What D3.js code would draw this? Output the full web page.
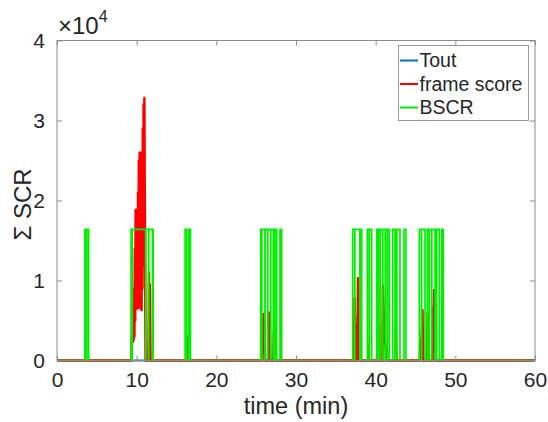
<!DOCTYPE html>
<html><head><meta charset="utf-8">
<script src="https://cdn.jsdelivr.net/npm/d3@7"></script>
<style>
body{margin:0;background:#fff}
svg{display:block}
text{font-family:"Liberation Sans",Arial,Helvetica,sans-serif;fill:#262626}
</style>
</head><body>
<svg id="c" width="548" height="422"></svg>
<script>
// ---------------- data ----------------
const xTicks = [0, 10, 20, 30, 40, 50, 60];
const yTicks = [0, 10000, 20000, 30000, 40000];
const yTickLabels = ["0", "1", "2", "3", "4"];
const seriesNames = ["Tout", "frame score", "BSCR"];
const seriesColors = ["#0072BD", "#ff0000", "#00f000"];

const toutTime = [0, 60];
const toutValue = [0, 0];

const bscrLevel = 16384;
// [on, off] times (min) of BSCR pulses
const bscrPulses = [
  [3.5, 3.72], [3.74, 3.97],
  [9.3, 9.42], [9.44, 11.13], [11.15, 11.5], [11.52, 11.98], [12.0, 12.07],
  [16.08, 16.3], [16.55, 16.75],
  [25.57, 25.7], [25.72, 26.1], [26.12, 26.44], [26.46, 26.82], [26.84, 27.15], [27.17, 27.34], [27.36, 27.58],
  [27.99, 28.2],
  [37.11, 37.37], [37.39, 38.02], [38.04, 38.25],
  [38.95, 39.18], [39.2, 39.5],
  [40.13, 40.3], [40.32, 40.54], [40.56, 40.88], [40.9, 41.2], [41.22, 41.46], [41.48, 41.71],
  [42.14, 42.43], [42.45, 42.64], [42.66, 43.05],
  [43.55, 43.8],
  [45.48, 45.75], [45.77, 46.19], [46.48, 46.71], [46.73, 47.03], [47.05, 47.45], [47.47, 47.64], [47.66, 47.99],
  [48.29, 48.49]
];

const frameTime = [
  0, 9.32, 9.37, 9.42, 9.47, 9.52, 9.57, 9.62, 9.67, 9.72, 9.77, 9.82, 9.87, 9.92, 9.97,
  10.02, 10.07, 10.12, 10.17, 10.22, 10.27, 10.32, 10.37, 10.42, 10.47, 10.52, 10.57, 10.62,
  10.67, 10.72, 10.77, 10.82, 10.87, 10.92, 10.97, 11.02, 11.07, 11.12,
  11.45, 11.50, 11.55, 11.60, 11.65, 11.70, 11.75,
  16.32, 16.36, 16.40, 16.44, 16.48,
  25.75, 25.80, 25.85, 25.90, 25.95, 26.00, 26.05, 26.08, 26.10,
  26.50, 26.55, 26.60, 26.65, 26.70, 26.75, 26.80,
  27.15, 27.20, 27.25, 27.30, 27.35, 27.40, 27.45,
  37.25, 37.30, 37.35, 37.45, 37.50,
  37.70, 37.78, 37.83, 37.88, 37.93, 37.98, 38.02,
  39.05, 39.10, 39.15,
  40.30, 40.35, 40.45, 40.52,
  40.85, 40.90, 40.97, 41.05, 41.15, 41.25, 41.30,
  42.48, 42.53, 42.58, 42.63,
  45.55, 45.60, 45.68, 45.78, 45.88, 45.92, 45.97,
  46.48, 46.53, 46.60, 46.67,
  47.15, 47.22, 47.28, 47.35, 47.45, 47.52,
  60
];
const frameValue = [
  0, 0, 2200, 3200, 4900, 2300, 5000, 2600, 9000, 3000, 14000, 5000, 18800, 7000, 18800,
  6800, 18600, 6500, 21000, 6600, 25000, 6800, 26000, 7000, 24000, 6500, 20000, 6300,
  26000, 9000, 29000, 12000, 32000, 16000, 32800, 20000, 9000, 0,
  0, 3200, 11000, 3500, 9500, 3300, 0,
  0, 1000, 3000, 900, 0,
  0, 2500, 5200, 2700, 5800, 2600, 4800, 2500, 0,
  0, 1700, 6000, 2000, 5600, 1800, 0,
  0, 2500, 4600, 2600, 4000, 2500, 0,
  0, 3000, 7800, 2500, 0,
  0, 10300, 6000, 9000, 3500, 2500, 0,
  0, 2000, 0,
  0, 4400, 3000, 0,
  0, 9400, 7000, 4500, 2500, 1700, 0,
  0, 4000, 1500, 0,
  0, 2500, 2000, 3000, 6300, 2500, 0,
  0, 5900, 2500, 0,
  0, 6700, 4400, 8800, 4400, 0,
  0
];

// ---------------- chart ----------------
const svg = d3.select("#c");
const L = 57, R = 535, T = 40.5, B = 360.5;
const x = d3.scaleLinear().domain([0, 60]).range([L, R]);
const y = d3.scaleLinear().domain([0, 40000]).range([B, T]);
const axisColor = "#8c8c8c";
const tickLen = 5;

svg.append("rect").attr("x", L).attr("y", T).attr("width", R - L).attr("height", B - T)
  .attr("fill", "#fff").attr("stroke", "none");

svg.append("clipPath").attr("id", "clip").append("rect")
  .attr("x", L).attr("y", T - 2).attr("width", R - L).attr("height", B - T + 4);

const line = d3.line().x(d => x(d[0])).y(d => y(d[1]));
const plot = svg.append("g").attr("clip-path", "url(#clip)");

// Tout
plot.append("path").datum(toutTime.map((t, i) => [t, toutValue[i]]))
  .attr("d", line).attr("fill", "none").attr("stroke", seriesColors[0]).attr("stroke-width", 2.2);
// frame score
plot.append("path").datum(frameTime.map((t, i) => [t, frameValue[i]]))
  .attr("d", line).attr("fill", "none").attr("stroke", seriesColors[1]).attr("stroke-width", 2.5)
  .attr("stroke-linejoin", "round");
// BSCR
const bscrPts = [[0, 0]];
bscrPulses.forEach(p => { bscrPts.push([p[0], bscrLevel]); bscrPts.push([p[1], 0]); });
bscrPts.push([60, 0]);
plot.append("path").datum(bscrPts)
  .attr("d", d3.line().x(d => x(d[0])).y(d => y(d[1])).curve(d3.curveStepAfter))
  .attr("fill", "none").attr("stroke", seriesColors[2]).attr("stroke-width", 1.7);

// axes
function styleAxis(g) {
  g.select(".domain").remove();
  g.selectAll(".tick line").attr("stroke", axisColor);
  g.selectAll(".tick text").attr("fill", "#262626").style("font-size", "21px")
    .style("font-family", '"Liberation Sans",Arial,Helvetica,sans-serif');
}
svg.append("g").attr("transform", `translate(0,${B})`)
  .call(d3.axisBottom(x).tickValues(xTicks).tickSize(-tickLen).tickPadding(12).tickFormat(d3.format("d")))
  .call(styleAxis);
svg.append("g").attr("transform", `translate(0,${T})`)
  .call(d3.axisTop(x).tickValues(xTicks).tickSize(-tickLen).tickFormat(""))
  .call(styleAxis);
svg.append("g").attr("transform", `translate(${L},0)`)
  .call(d3.axisLeft(y).tickValues(yTicks).tickSize(-tickLen).tickPadding(12).tickFormat((d, i) => yTickLabels[i]))
  .call(styleAxis);
svg.append("g").attr("transform", `translate(${R},0)`)
  .call(d3.axisRight(y).tickValues(yTicks).tickSize(-tickLen).tickFormat(""))
  .call(styleAxis);

svg.append("rect").attr("x", L).attr("y", T).attr("width", R - L).attr("height", B - T)
  .attr("fill", "none").attr("stroke", axisColor).attr("stroke-width", 1);

// exponent
const ex = svg.append("text").attr("x", 58).attr("y", 34).style("font-size", "24px");
ex.append("tspan").text("×10");
ex.append("tspan").attr("dy", -12).style("font-size", "16px").text("4");

// axis labels
svg.append("text").attr("x", (L + R) / 2).attr("y", 414).attr("text-anchor", "middle")
  .style("font-size", "23.5px").text("time (min)");
svg.append("text").attr("transform", `translate(31,${(T + B) / 2 + 4}) rotate(-90)`)
  .attr("text-anchor", "middle").style("font-size", "24px").text("Σ SCR");

// legend
const lg = svg.append("g");
lg.append("rect").attr("x", 398.5).attr("y", 45.5).attr("width", 130).attr("height", 75)
  .attr("fill", "#fff").attr("stroke", "#9a9a9a").attr("stroke-width", 1);
const rowY = [60.5, 84, 107.5];
seriesNames.forEach((n, i) => {
  lg.append("line").attr("x1", 400).attr("x2", 418).attr("y1", rowY[i]).attr("y2", rowY[i])
    .attr("stroke", seriesColors[i]).attr("stroke-width", 2);
  lg.append("text").attr("x", 419.5).attr("y", rowY[i]).attr("dy", "0.35em")
    .style("font-size", "19.5px").text(n);
});
</script>
</body></html>
